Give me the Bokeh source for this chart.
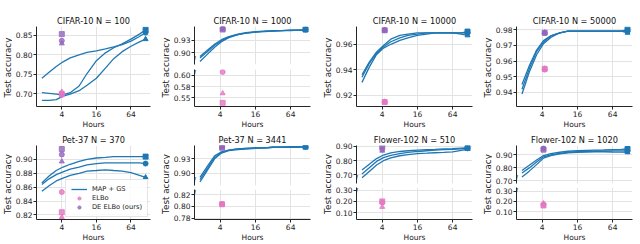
import math
from bokeh.plotting import figure
from bokeh.layouts import row, column
from bokeh.models import FixedTicker, Label, Legend, LegendItem, Range1d
from bokeh.embed import file_html
from bokeh.resources import INLINE

# ---------------- data ----------------
HOURS = [1.8, 2.4, 3.2, 4.2, 5.6, 8, 11, 16, 23, 32, 45, 64, 90, 115]
X_TICKS = [4, 16, 64]
MARKERS = ["square", "circle", "triangle"]

C100_TITLE = "CIFAR-10 N = 100"
C100_RUN_A = [0.703, 0.701, 0.699, 0.697, 0.703, 0.720, 0.752, 0.785, 0.805, 0.818, 0.828, 0.840, 0.853, 0.864]
C100_RUN_B = [0.740, 0.755, 0.770, 0.782, 0.792, 0.800, 0.806, 0.810, 0.815, 0.820, 0.826, 0.835, 0.847, 0.857]
C100_RUN_C = [0.683, 0.683, 0.685, 0.694, 0.699, 0.708, 0.722, 0.740, 0.766, 0.790, 0.808, 0.822, 0.833, 0.840]
C100_ELBO = [0.700, 0.697, 0.705]
C100_DE = [0.853, 0.836, 0.829]
C100_PX = 4.0

C1K_TITLE = "CIFAR-10 N = 1000"
C1K_RUN_A = [0.893, 0.905, 0.917, 0.926, 0.932, 0.937, 0.940, 0.942, 0.943, 0.944, 0.944, 0.945, 0.945, 0.946]
C1K_RUN_B = [0.890, 0.902, 0.915, 0.924, 0.931, 0.936, 0.939, 0.941, 0.943, 0.943, 0.944, 0.945, 0.945, 0.946]
C1K_RUN_C = [0.883, 0.897, 0.911, 0.922, 0.930, 0.936, 0.939, 0.941, 0.942, 0.943, 0.944, 0.944, 0.945, 0.945]
C1K_ELBO = [0.539, 0.607, 0.560]
C1K_DE = [0.946, 0.948, 0.947]
C1K_PX = 4.4

C10K_TITLE = "CIFAR-10 N = 10000"
C10K_RUN_A = [0.930, 0.942, 0.952, 0.957, 0.960, 0.963, 0.965, 0.967, 0.968, 0.969, 0.969, 0.969, 0.969, 0.970]
C10K_RUN_B = [0.934, 0.945, 0.953, 0.958, 0.962, 0.965, 0.967, 0.968, 0.969, 0.969, 0.969, 0.969, 0.969, 0.969]
C10K_RUN_C = [0.936, 0.946, 0.954, 0.959, 0.964, 0.967, 0.968, 0.969, 0.969, 0.969, 0.969, 0.969, 0.968, 0.967]
C10K_ELBO = [0.9145, 0.9145, 0.9148]
C10K_DE = [0.971, 0.9712, 0.9708]
C10K_PX = 4.4

C50K_TITLE = "CIFAR-10 N = 50000"
C50K_RUN_A = [0.939, 0.953, 0.964, 0.971, 0.975, 0.978, 0.979, 0.979, 0.979, 0.979, 0.979, 0.979, 0.979, 0.980]
C50K_RUN_B = [0.942, 0.955, 0.966, 0.972, 0.976, 0.978, 0.979, 0.979, 0.979, 0.979, 0.979, 0.979, 0.979, 0.979]
C50K_RUN_C = [0.945, 0.957, 0.967, 0.973, 0.976, 0.978, 0.979, 0.979, 0.979, 0.979, 0.979, 0.979, 0.979, 0.978]
C50K_ELBO = [0.955, 0.9545, 0.9552]
C50K_DE = [0.978, 0.9778, 0.9782]
C50K_PX = 4.4

P370_TITLE = "Pet-37 N = 370"
P370_RUN_A = [0.866, 0.876, 0.884, 0.889, 0.893, 0.897, 0.900, 0.902, 0.903, 0.904, 0.904, 0.904, 0.904, 0.904]
P370_RUN_B = [0.864, 0.872, 0.878, 0.882, 0.886, 0.889, 0.892, 0.894, 0.895, 0.895, 0.895, 0.895, 0.895, 0.894]
P370_RUN_C = [0.854, 0.862, 0.869, 0.873, 0.877, 0.880, 0.883, 0.884, 0.885, 0.884, 0.883, 0.881, 0.877, 0.874]
P370_ELBO = [0.824, 0.853, 0.817]
P370_DE = [0.915, 0.907, 0.897]
P370_PX = 4.0

P3441_TITLE = "Pet-37 N = 3441"
P3441_RUN_A = [0.893, 0.912, 0.930, 0.937, 0.940, 0.942, 0.943, 0.944, 0.944, 0.945, 0.945, 0.946, 0.946, 0.946]
P3441_RUN_B = [0.889, 0.908, 0.927, 0.936, 0.940, 0.942, 0.943, 0.944, 0.944, 0.945, 0.945, 0.945, 0.945, 0.946]
P3441_RUN_C = [0.885, 0.905, 0.925, 0.935, 0.939, 0.941, 0.942, 0.943, 0.944, 0.945, 0.945, 0.945, 0.946, 0.946]
P3441_ELBO = [0.8045, 0.805, 0.8048]
P3441_DE = [0.944, 0.946, 0.945]
P3441_PX = 4.3

F510_TITLE = "Flower-102 N = 510"
F510_RUN_A = [0.735, 0.775, 0.815, 0.840, 0.855, 0.865, 0.870, 0.875, 0.878, 0.880, 0.883, 0.885, 0.888, 0.890]
F510_RUN_B = [0.706, 0.750, 0.795, 0.822, 0.838, 0.850, 0.858, 0.865, 0.870, 0.874, 0.878, 0.880, 0.884, 0.887]
F510_RUN_C = [0.680, 0.725, 0.770, 0.800, 0.820, 0.835, 0.843, 0.850, 0.853, 0.856, 0.858, 0.862, 0.872, 0.882]
F510_ELBO = [0.20, 0.19, 0.15]
F510_DE = [0.90, 0.88, 0.87]
F510_PX = 4.0

F1020_TITLE = "Flower-102 N = 1020"
F1020_RUN_A = [0.780, 0.820, 0.860, 0.895, 0.910, 0.920, 0.928, 0.932, 0.935, 0.937, 0.938, 0.940, 0.942, 0.945]
F1020_RUN_B = [0.760, 0.800, 0.845, 0.885, 0.900, 0.912, 0.920, 0.925, 0.928, 0.930, 0.930, 0.930, 0.930, 0.930]
F1020_RUN_C = [0.730, 0.775, 0.825, 0.875, 0.895, 0.908, 0.915, 0.920, 0.922, 0.924, 0.924, 0.922, 0.921, 0.920]
F1020_ELBO = [0.16, 0.17, 0.18]
F1020_DE = [0.94, 0.95, 0.945]
F1020_PX = 4.2

LEGEND_LABELS = ["MAP + GS", "ELBo", "DE ELBo (ours)"]
Y_LABEL = "Test accuracy"
X_LABEL = "Hours"

# ---------------- styling / layout ----------------
FONT = "DejaVu Sans"
BLUE = "#1f77b4"
PINK = "#e377c2"
PURPLE = "#9467bd"
GRID = "#e3e3e3"
SPINE = "#262626"
XR = (1.45, 140)
TICK_FS = "7.5px"
YLAB_FS = "8.8px"
TITLE_FS = "8.2px"
LEG_FS = "6.7px"
# per column: (label width, left border, frame width, right border)
COLS = [(12, 20, 118, 8), (12, 23, 117, 10), (12, 20, 120, 8), (12, 20, 120, 8)]
LABEL_X = 7

PANELS_ROW1 = [
    dict(title=C100_TITLE, runs=[C100_RUN_A, C100_RUN_B, C100_RUN_C], elbo=C100_ELBO, de=C100_DE, px=C100_PX,
         segs=[((0.6675, 0.8725), [0.70, 0.75, 0.80, 0.85], ["0.70", "0.75", "0.80", "0.85"], 82)], gaps=[]),
    dict(title=C1K_TITLE, runs=[C1K_RUN_A, C1K_RUN_B, C1K_RUN_C], elbo=C1K_ELBO, de=C1K_DE, px=C1K_PX,
         segs=[((0.877, 0.952), [0.900, 0.925], ["0.90", "0.93"], 38),
               ((0.531, 0.6125), [0.550, 0.575, 0.600], ["0.55", "0.58", "0.60"], 39)], gaps=[(2, 3)]),
    dict(title=C10K_TITLE, runs=[C10K_RUN_A, C10K_RUN_B, C10K_RUN_C], elbo=C10K_ELBO, de=C10K_DE, px=C10K_PX,
         segs=[((0.911, 0.974), [0.92, 0.94, 0.96], ["0.92", "0.94", "0.96"], 82)], gaps=[]),
    dict(title=C50K_TITLE, runs=[C50K_RUN_A, C50K_RUN_B, C50K_RUN_C], elbo=C50K_ELBO, de=C50K_DE, px=C50K_PX,
         segs=[((0.931, 0.982), [0.94, 0.95, 0.96, 0.97, 0.98], ["0.94", "0.95", "0.96", "0.97", "0.98"], 82)], gaps=[]),
]
PANELS_ROW2 = [
    dict(title=P370_TITLE, runs=[P370_RUN_A, P370_RUN_B, P370_RUN_C], elbo=P370_ELBO, de=P370_DE, px=P370_PX,
         segs=[((0.8135, 0.92), [0.82, 0.84, 0.86, 0.88, 0.90], ["0.82", "0.84", "0.86", "0.88", "0.90"], 81)],
         gaps=[], legend=True),
    dict(title=P3441_TITLE, runs=[P3441_RUN_A, P3441_RUN_B, P3441_RUN_C], elbo=P3441_ELBO, de=P3441_DE, px=P3441_PX,
         segs=[((0.879, 0.948), [0.900, 0.925], ["0.90", "0.93"], 42),
               ((0.772, 0.836), [0.775, 0.800, 0.825], ["0.78", "0.80", "0.82"], 35)], gaps=[(2, 2)]),
    dict(title=F510_TITLE, runs=[F510_RUN_A, F510_RUN_B, F510_RUN_C], elbo=F510_ELBO, de=F510_DE, px=F510_PX,
         segs=[((0.64, 0.907), [0.7, 0.8, 0.9], ["0.70", "0.80", "0.90"], 40),
               ((0.037, 0.325), [0.1, 0.2, 0.3], ["0.10", "0.20", "0.30"], 37)], gaps=[(2, 2)]),
    dict(title=F1020_TITLE, runs=[F1020_RUN_A, F1020_RUN_B, F1020_RUN_C], elbo=F1020_ELBO, de=F1020_DE, px=F1020_PX,
         segs=[((0.68, 0.972), [0.7, 0.8, 0.9], ["0.70", "0.80", "0.90"], 40),
               ((0.024, 0.335), [0.1, 0.2, 0.3], ["0.10", "0.20", "0.30"], 37)], gaps=[(3, 1)]),
]


def style_axis(ax):
    ax.axis_line_color = SPINE
    ax.axis_line_width = 1
    ax.major_tick_line_color = SPINE
    ax.major_tick_in = 0
    ax.major_tick_out = 3
    ax.minor_tick_line_color = None
    ax.major_label_text_font = FONT
    ax.major_label_text_font_size = TICK_FS
    ax.major_label_text_color = "#222222"
    ax.major_label_standoff = 1
    ax.axis_label_text_font = FONT
    ax.axis_label_text_font_size = TICK_FS
    ax.axis_label_text_font_style = "normal"
    ax.axis_label_text_color = "#222222"
    ax.axis_label_standoff = 0


def break_mark(yv, baseline):
    return Label(x=XR[0], y=yv, text="/", text_font=FONT, text_font_size="8px",
                 text_color=SPINE, text_align="center", text_baseline=baseline)


def make_panel(cfg, geom, top, bottom):
    lbl_w, left, fw, right = geom
    segs = cfg["segs"]
    n = len(segs)
    figs = []
    frame_total = sum(s[3] for s in segs) + sum(a + b for a, b in cfg["gaps"])
    total_h = top + bottom + frame_total
    for i, (yr, yt, yl, fh) in enumerate(segs):
        t = top if i == 0 else cfg["gaps"][i - 1][1]
        b = bottom if i == n - 1 else cfg["gaps"][i][0]
        last = i == n - 1
        p = figure(width=left + fw + right, height=t + fh + b, x_axis_type="log",
                   x_range=Range1d(*XR), y_range=Range1d(*yr),
                   x_axis_location="below" if last else None,
                   output_backend="svg", toolbar_location=None,
                   min_border_left=left, min_border_right=right, min_border_top=t, min_border_bottom=b)
        p.outline_line_color = None
        p.background_fill_color = "white"
        p.border_fill_color = "white"
        if i == 0:
            p.title.text = cfg["title"]
            p.title.text_font = FONT
            p.title.text_font_size = TITLE_FS
            p.title.text_font_style = "normal"
            p.title.text_color = "#111111"
            p.title.align = "center"
            p.title.standoff = 2
            p.title.offset = 0
        yticker = FixedTicker(ticks=yt)
        p.yaxis.ticker = yticker
        p.yaxis.major_label_overrides = {float(v): s for v, s in zip(yt, yl)}
        style_axis(p.yaxis[0])
        if last:
            p.xaxis.ticker = FixedTicker(ticks=X_TICKS)
            p.xaxis.major_label_overrides = {float(v): str(v) for v in X_TICKS}
            p.xaxis.axis_label = X_LABEL
            style_axis(p.xaxis[0])
        p.xgrid.ticker = FixedTicker(ticks=X_TICKS)
        p.ygrid.ticker = yticker
        for g in (p.xgrid[0], p.ygrid[0]):
            g.grid_line_color = GRID
            g.grid_line_width = 1

        line_r = None
        for run, mk in zip(cfg["runs"], MARKERS):
            r = p.line(HOURS, run, line_color=BLUE, line_width=1.3)
            if line_r is None:
                line_r = r
            p.scatter([HOURS[-1]], [run[-1]], marker=mk, size=5, color=BLUE)
        elbo_rs, de_rs = {}, {}
        for v, mk in zip(cfg["elbo"], MARKERS):
            elbo_rs[mk] = p.scatter([cfg["px"]], [v], marker=mk, size=5, color=PINK, alpha=0.8)
        for v, mk in zip(cfg["de"], MARKERS):
            de_rs[mk] = p.scatter([cfg["px"]], [v], marker=mk, size=5, color=PURPLE, alpha=0.8)

        # axis break marks, kept inside the frame ends
        if n > 1:
            if not last:
                p.add_layout(break_mark(yr[0], "bottom"))
            if i > 0:
                p.add_layout(break_mark(yr[1], "top"))

        if cfg.get("legend") and last:
            leg = Legend(items=[LegendItem(label=LEGEND_LABELS[0], renderers=[line_r]),
                                LegendItem(label=LEGEND_LABELS[1], renderers=[elbo_rs["circle"]]),
                                LegendItem(label=LEGEND_LABELS[2], renderers=[de_rs["circle"]])],
                         location="bottom_right")
            leg.label_text_font = FONT
            leg.label_text_font_size = LEG_FS
            leg.label_text_color = "#222222"
            leg.glyph_width = 16
            leg.glyph_height = 8
            leg.label_height = 8
            leg.label_standoff = 5
            leg.spacing = 1
            leg.padding = 5
            leg.margin = 2
            leg.border_line_color = "#cccccc"
            leg.border_line_width = 1
            leg.background_fill_alpha = 0.85
            p.add_layout(leg)
        figs.append(p)

    # y label figure
    yc = total_h - (top + frame_total / 2.0)
    lf = figure(width=lbl_w, height=total_h, x_range=Range1d(0, lbl_w), y_range=Range1d(0, total_h),
                x_axis_location=None, y_axis_location=None, output_backend="svg", toolbar_location=None,
                min_border=0, min_border_left=0, min_border_right=0, min_border_top=0, min_border_bottom=0)
    lf.outline_line_color = None
    lf.grid.visible = False
    lf.add_layout(Label(x=LABEL_X, y=yc, text=Y_LABEL, angle=math.pi / 2, text_align="center",
                        text_baseline="middle", text_font=FONT, text_font_size=YLAB_FS, text_color="#222222"))
    return row(lf, column(*figs, spacing=0), spacing=0)


row1 = row(*[make_panel(c, g, 26, 23) for c, g in zip(PANELS_ROW1, COLS)], spacing=0)
row2 = row(*[make_panel(c, g, 12, 20) for c, g in zip(PANELS_ROW2, COLS)], spacing=0)
layout = column(row1, row2, spacing=0)

open("out.html", "w").write(file_html(layout, INLINE))
